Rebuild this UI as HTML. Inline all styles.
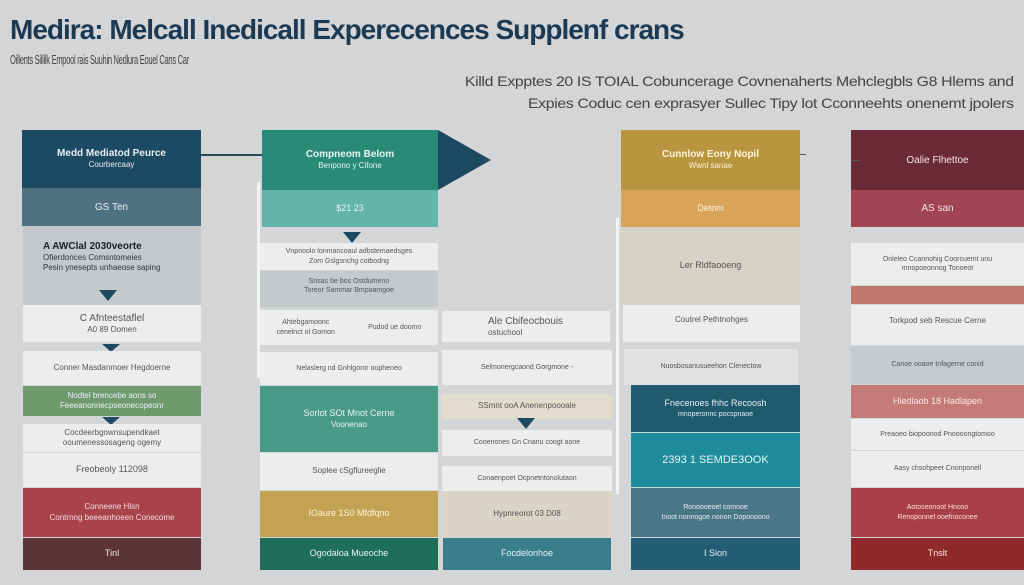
<!DOCTYPE html>
<html><head><meta charset="utf-8"><style>
body{margin:0;width:1024px;height:585px;background:#d3d5d6;position:relative;overflow:hidden;font-family:"Liberation Sans",sans-serif}
.b{position:absolute;display:flex;flex-direction:column;align-items:center;justify-content:center;text-align:center;font-size:8px;color:#555;line-height:1.3;box-sizing:border-box}
.w{background:#eceeee}
.t{position:absolute;width:0;height:0;border-left:9px solid transparent;border-right:9px solid transparent;border-top:11px solid #1d4a63}
.h{font-size:10px;font-weight:bold}
</style></head><body>
<div style="position:absolute;left:10px;top:14px;font-size:28px;font-weight:bold;color:#1d3a55;letter-spacing:-1px;white-space:nowrap;transform:scaleX(1.0);transform-origin:left">Medira: Melcall Inedicall Experecences Supplenf crans</div>
<div style="position:absolute;left:10px;top:52px;font-size:13px;color:#444;letter-spacing:-.5px;white-space:nowrap;transform:scaleX(0.58);transform-origin:left">Oillents Sillilk Empool rais Suuhin Nedlura Eouel Cans Car</div>
<div style="position:absolute;right:10px;top:70px;font-size:14px;color:#444;letter-spacing:-.3px;text-align:right;line-height:22px;white-space:nowrap;transform:scaleX(1.13);transform-origin:right">Killd Expptes 20 IS TOIAL Cobuncerage Covnenaherts Mehclegbls G8 Hlems and<br>Expies Coduc cen exprasyer Sullec Tipy lot Cconneehts onenemt jpolers</div>

<!-- col1 -->
<div class="b" style="left:22px;top:130px;width:179px;height:58px;background:#1d4a63;color:#e6eef2"><span class="h">Medd Mediatod Peurce</span><span>Courbercaay</span></div>
<div class="b" style="left:22px;top:188px;width:179px;height:38px;background:#4f7283;color:#e6eef2;font-size:10px">GS Ten</div>
<div class="b" style="left:23px;top:226px;width:178px;height:79px;background:#c5c9cc;align-items:flex-start;justify-content:flex-start;padding:14px 20px;color:#333;text-align:left"><span class="h" style="color:#222">A AWClal 2030veorte</span><span>Ofierdonces Comsntomeies<br>Pesin ynesepts unhaeose saping</span></div>
<div class="t" style="left:99px;top:290px"></div>
<div class="b w" style="left:23px;top:305px;width:178px;height:37px"><span class="h" style="font-weight:normal">C Afnteestaflel</span><span>A0 89 Oomen</span></div>
<div class="t" style="left:102px;top:344px;border-top-width:8px"></div>
<div class="b w" style="left:23px;top:351px;width:178px;height:34px">Conner Masdanmoer Hegdoerne</div>
<div class="b" style="left:23px;top:386px;width:178px;height:30px;background:#6e9a6e;color:#eef">Nodtel brencebe aons so<br>Feeeanonnecpseonecopeonr</div>
<div class="t" style="left:102px;top:417px;border-top-width:8px"></div>
<div class="b w" style="left:23px;top:424px;width:178px;height:28px">Cocdeerbgownsupendkaet<br>ooumenessosageng ogemy</div>
<div class="b w" style="left:23px;top:453px;width:178px;height:34px;font-size:9px">Freobeoly 112098</div>
<div class="b" style="left:23px;top:488px;width:178px;height:49px;background:#a8434a;color:#f3dcdc">Conneene Hlsn<br>Contrnng beeeanhoeen Conecome</div>
<div class="b" style="left:23px;top:538px;width:178px;height:32px;background:#5a3436;color:#f3e8e8;font-size:9px">Tinl</div>
<div style="position:absolute;left:200px;top:154px;width:62px;height:2px;background:#2a4a58"></div>

<!-- col2 -->
<div style="position:absolute;left:257px;top:182px;width:3px;height:196px;background:#f2f3f3"></div>
<div class="b" style="left:262px;top:130px;width:176px;height:60px;background:#2a8a78;color:#e6f4f0"><span class="h">Compneom Belom</span><span>Benpono y Cifone</span></div>
<div style="position:absolute;left:438px;top:130px;width:0;height:0;border-top:30px solid transparent;border-bottom:30px solid transparent;border-left:53px solid #1d4a63"></div>
<div class="b" style="left:262px;top:190px;width:176px;height:37px;background:#63b5ac;color:#eef;font-size:9px">$21 23</div>
<div class="t" style="left:343px;top:232px"></div>
<div class="b w" style="left:260px;top:243px;width:178px;height:27px;font-size:7px">Vnpnoolo lonmancoaul adbstemaedsges<br>Zom Gslgsnchg cotbodng</div>
<div class="b" style="left:260px;top:271px;width:178px;height:36px;background:#c5c9cc;font-size:7px;justify-content:flex-start;padding-top:6px">Snsas be bos Ostdumeno<br>Toreor Sammar Bmpoamgoe</div>
<div class="b w" style="left:260px;top:310px;width:178px;height:35px;flex-direction:row;justify-content:space-around;font-size:7px"><span>Ahtebgamoonc<br>cenelnct ol Gomon</span><span>Pudod ue doomo</span></div>
<div class="b w" style="left:260px;top:352px;width:178px;height:33px;font-size:7px">Nelaslerg nd Gnhlgoror oupheneo</div>
<div class="b" style="left:260px;top:386px;width:178px;height:66px;background:#4a9a88;color:#e6f4f0"><span style="font-size:9px">Sorlot SOt Mnot Cerne</span><span>Voonenao</span></div>
<div class="b w" style="left:260px;top:453px;width:178px;height:37px">Soplee cSgflureeglie</div>
<div class="b" style="left:260px;top:491px;width:178px;height:46px;background:#c4a253;color:#fff3dc;font-size:9px">IOaure 1S0 Mfdfqno</div>
<div class="b" style="left:260px;top:538px;width:178px;height:32px;background:#1f6e5a;color:#e6f4f0;font-size:9px">Ogodaloa Mueoche</div>

<!-- col3 -->
<div class="b w" style="left:442px;top:311px;width:168px;height:31px;align-items:flex-start;padding-left:46px;text-align:left"><span class="h" style="font-weight:normal">Ale Cbifeocbouis</span><span>ostuchool</span></div>
<div class="b w" style="left:442px;top:350px;width:170px;height:35px;font-size:7px">Selmonergcaond Gorgmone -</div>
<div class="b" style="left:442px;top:394px;width:170px;height:25px;background:#e2dccc;font-size:8px">SSmnt ooA Anenenpoooale</div>
<div class="t" style="left:517px;top:418px"></div>
<div class="b w" style="left:442px;top:430px;width:170px;height:26px;font-size:7px">Cooenones Gn Cnanu coogt aone</div>
<div class="b w" style="left:442px;top:466px;width:170px;height:25px;font-size:7px">Conaenpoet Ocpnetntonolutaon</div>
<div class="b" style="left:442px;top:491px;width:170px;height:46px;background:#d9d4c5;font-size:8px">Hypnreorot 03 D08</div>
<div class="b" style="left:443px;top:538px;width:168px;height:32px;background:#3a7e8c;color:#e6f4f0;font-size:9px">Focdelonhoe</div>
<div style="position:absolute;left:616px;top:218px;width:3px;height:276px;background:#f2f3f3"></div>

<!-- col4 -->
<div class="b" style="left:621px;top:130px;width:179px;height:60px;background:#b8963f;color:#fff3dc"><span class="h">Cunnlow Eony Nopil</span><span>Wwnl sanae</span></div>
<div class="b" style="left:621px;top:190px;width:179px;height:37px;background:#d9a35a;color:#fff3dc;font-size:9px">Detom</div>
<div class="b" style="left:621px;top:227px;width:179px;height:78px;background:#d6d3c6;font-size:9px">Ler Rldfaooeng</div>
<div class="b w" style="left:623px;top:305px;width:177px;height:37px;font-size:8px;justify-content:flex-start;padding-top:10px">Coutrel Pethtnohges</div>
<div class="b" style="left:624px;top:349px;width:174px;height:36px;background:#e0e2e2;font-size:7px">Nuosbosanusueehon Clenectow</div>
<div class="b" style="left:631px;top:385px;width:169px;height:47px;background:#1f5a6e;color:#e6eef2"><span class="h" style="font-weight:normal;font-size:9px">Fnecenoes fhhc Recoosh</span><span style="font-size:7px">mnoperonnc pocspnaoe</span></div>
<div class="b" style="left:631px;top:433px;width:169px;height:54px;background:#1f8c9b;color:#e6f4f6;font-size:11px">2393 1 SEMDE3OOK</div>
<div class="b" style="left:631px;top:488px;width:169px;height:49px;background:#4b7688;color:#e6eef2;font-size:7px">Ronoooeoel comnoe<br>Inoot nonnogoe nonon Doponoono</div>
<div class="b" style="left:631px;top:538px;width:169px;height:32px;background:#235e75;color:#e6eef2;font-size:9px">I Sion</div>
<div style="position:absolute;left:800px;top:154px;width:6px;height:1px;background:#555"></div>

<!-- col5 -->
<div class="b" style="left:851px;top:130px;width:173px;height:60px;background:#6b2a38;color:#f3e4e8;font-size:10px">Oalie Flhettoe</div>
<div class="b" style="left:851px;top:190px;width:173px;height:37px;background:#a14552;color:#f3e4e8;font-size:10px">AS san</div>
<div class="b w" style="left:851px;top:243px;width:173px;height:42px;font-size:7px">Onleleo Ccannohig Coorcuemt unu<br>mnopoeonnog Tonoeot</div>
<div class="b" style="left:851px;top:286px;width:173px;height:18px;background:#c0776e"></div>
<div class="b w" style="left:851px;top:305px;width:173px;height:40px;font-size:8px;justify-content:flex-start;padding-top:11px">Torkpod seb Rescue Cerne</div>
<div class="b" style="left:851px;top:346px;width:173px;height:38px;background:#c6cbcd;font-size:7px">Canoe ooaoe tnfagerne conid</div>
<div class="b" style="left:851px;top:385px;width:173px;height:33px;background:#c47b78;color:#fbe8e6;font-size:9px">Hiedlaob 18 Hadlapen</div>
<div class="b w" style="left:851px;top:419px;width:173px;height:31px;font-size:7px">Preaoeo biopoonod Pnoooongtomoo</div>
<div class="b w" style="left:851px;top:451px;width:173px;height:36px;font-size:7px">Aasy chsohpeet Cnonponell</div>
<div class="b" style="left:851px;top:488px;width:173px;height:49px;background:#a83e46;color:#fbe0e0;font-size:7px">Aotoseonoot Hnoso<br>Renoponnel ooefnoconee</div>
<div class="b" style="left:851px;top:538px;width:173px;height:32px;background:#8f2a2c;color:#fbe0e0;font-size:9px">Tnslt</div>
<div style="position:absolute;left:851px;top:160px;width:10px;height:1px;background:#555"></div>
</body></html>
